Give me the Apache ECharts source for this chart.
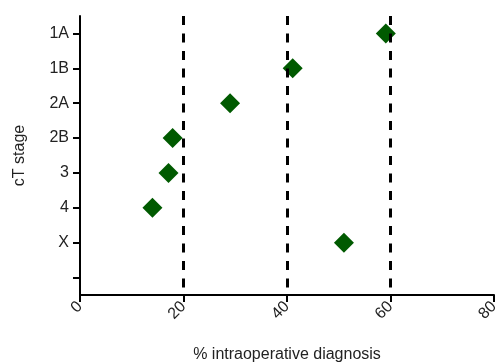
<!DOCTYPE html>
<html><head><meta charset="utf-8">
<script src="https://cdn.jsdelivr.net/npm/echarts@6/dist/echarts.min.js"></script>
<style>html,body{margin:0;padding:0;background:#fff}#c{width:499px;height:363px}</style>
</head><body><div id="c"></div>
<script>
const categories = ['1A','1B','2A','2B','3','4','X',''];
const pointStages = ['1A','1B','2A','2B','3','4','X'];
const pointValues = [59.1, 41.1, 29.0, 17.9, 17.1, 14.0, 51.0];
const refLines = [20, 40, 60];
const xTicks = [0, 20, 40, 60, 80];

const chart = echarts.init(document.getElementById('c'));
const font = 'Liberation Sans, Arial, Helvetica, sans-serif';
chart.setOption({
  animation: false,
  grid: {left: 80, right: 5, top: 16, bottom: 68, containLabel: false, outerBoundsMode: 'none'},
  xAxis: {
    type: 'value', min: xTicks[0], max: xTicks[xTicks.length-1], interval: 20,
    name: '% intraoperative diagnosis', nameLocation: 'middle', nameGap: 52,
    nameTextStyle: {fontFamily: font, fontSize: 16, color: '#222'},
    axisLine: {show: true, lineStyle: {color: '#000', width: 2}},
    axisTick: {show: true, length: 7, lineStyle: {color: '#000', width: 2}},
    axisLabel: {rotate: 45, fontFamily: font, fontSize: 16, color: '#222', margin: 9},
    splitLine: {show: false}
  },
  yAxis: {
    type: 'category', data: categories, inverse: true, boundaryGap: true,
    name: 'cT stage', nameLocation: 'middle', nameGap: 52,
    nameTextStyle: {fontFamily: font, fontSize: 16, color: '#222'},
    axisLine: {show: true, lineStyle: {color: '#000', width: 2}},
    axisTick: {show: true, alignWithLabel: true, length: 7, lineStyle: {color: '#000', width: 2}},
    axisLabel: {fontFamily: font, fontSize: 16, color: '#222', margin: 11},
    splitLine: {show: false}
  },
  series: [{
    type: 'scatter', z: 2,
    symbol: 'diamond', symbolSize: 20,
    itemStyle: {color: '#005a00', opacity: 1},
    data: pointStages.map((s, i) => [pointValues[i], s]),
    markLine: {
      silent: true, symbol: 'none', z: 5,
      label: {show: false},
      lineStyle: {color: '#000', width: 3, type: [9, 8.5], opacity: 1},
      data: refLines.map(v => ({xAxis: v}))
    }
  }]
});
</script></body></html>
